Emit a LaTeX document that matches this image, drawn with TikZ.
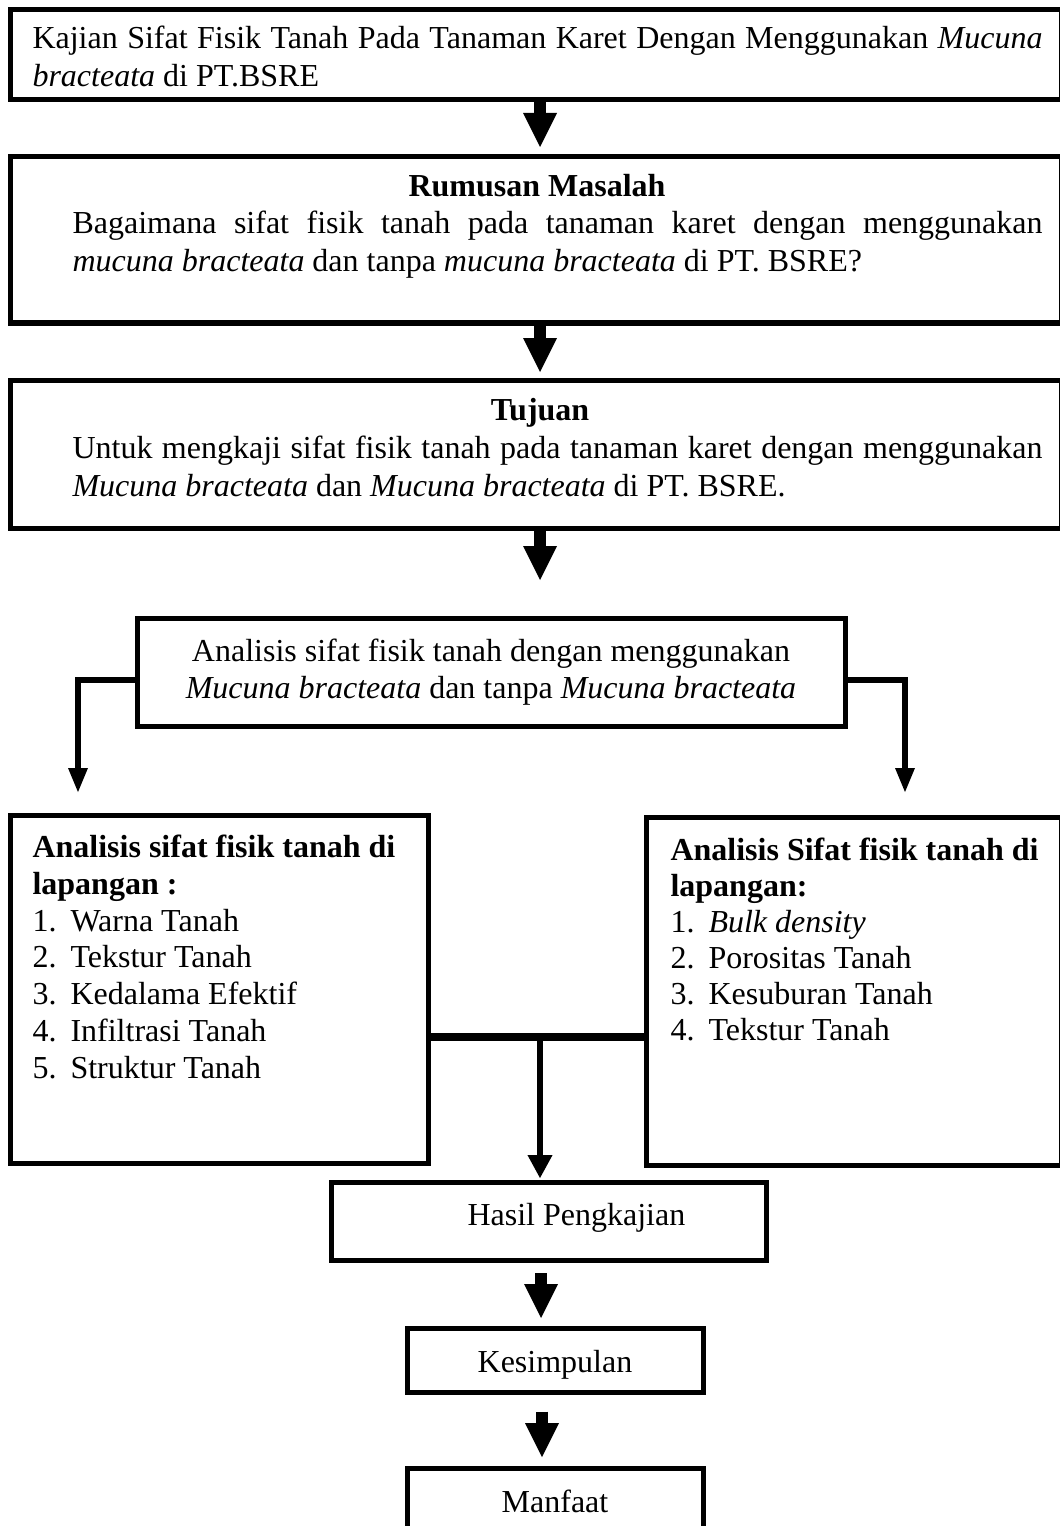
\documentclass[tikz,border=0pt]{standalone}
\usepackage{fontspec}
\setmainfont{Liberation Serif}
\usetikzlibrary{arrows.meta}
\begin{document}
\begin{tikzpicture}[x=0.375pt,y=-0.375pt,
  box/.style={draw=black, line width=1.875pt, rectangle, inner sep=0pt},
  txt/.style={anchor=base west, inner sep=0pt, font=\fontsize{12}{14}\selectfont},
  ctxt/.style={anchor=base, inner sep=0pt, font=\fontsize{12}{14}\selectfont},
  bigarrow/.style={line width=4.5pt, -{Triangle[width=12.75pt,length=12.75pt,line width=0pt]}},
  connector/.style={line width=2.4pt},
  smallarrow/.style={line width=2.4pt, -{Triangle[width=7.5pt,length=9pt,line width=0pt]}},
  joinarrow/.style={line width=2.6pt, -{Triangle[width=9.4pt,length=8.6pt,line width=0pt]}}
]
\path[use as bounding box, fill=white] (0,0) rectangle (1060,1526);

% boxes
\node[box, minimum width=394.125pt, minimum height=33.75pt] (b1) at (535.5,55) {};
\node[box, minimum width=394.125pt, minimum height=62.25pt] (b2) at (535.5,240) {};
\node[box, minimum width=394.125pt, minimum height=55.5pt] (b3) at (535.5,454) {};
\node[box, minimum width=265.5pt, minimum height=40.5pt] (b4) at (491,672) {};
\node[box, minimum width=156.75pt, minimum height=130.5pt] (b5) at (219,989) {};
\node[box, minimum width=155.625pt, minimum height=130.5pt] (b6) at (853.5,991) {};
\node[box, minimum width=163.125pt, minimum height=29.25pt] (b7) at (548.5,1221) {};
\node[box, minimum width=111pt, minimum height=24pt] (b8) at (555,1360) {};
\node[box, minimum width=111pt, minimum height=34.5pt] (b9) at (555,1514) {};

% texts
\node[txt] (t1a) at (32,49) {\makebox[378.75pt][s]{Kajian Sifat Fisik Tanah Pada Tanaman Karet Dengan Menggunakan \textit{Mucuna}}};
\node[txt] (t1b) at (32,87) {\textit{bracteata} di PT.BSRE};

\node[ctxt] (t2h) at (537,197) {\textbf{Rumusan Masalah}};
\node[txt] (t2a) at (72,234) {\makebox[363.75pt][s]{Bagaimana sifat fisik tanah pada tanaman karet dengan menggunakan}};
\node[txt] (t2b) at (72,272) {\textit{mucuna bracteata} dan tanpa \textit{mucuna bracteata} di PT. BSRE?};

\node[ctxt] (t3h) at (540,420) {\textbf{Tujuan}};
\node[txt] (t3a) at (72,458) {\makebox[363.75pt][s]{Untuk mengkaji sifat fisik tanah pada tanaman karet dengan menggunakan}};
\node[txt] (t3b) at (72,496) {\textit{Mucuna bracteata} dan \textit{Mucuna bracteata} di PT. BSRE.};

\node[ctxt] (t4a) at (491,661) {Analisis sifat fisik tanah dengan menggunakan};
\node[ctxt] (t4b) at (491,698) {\textit{Mucuna bracteata} dan tanpa \textit{Mucuna bracteata}};

\node[txt] (l0) at (32,857) {\textbf{Analisis sifat fisik tanah di}};
\node[txt] (l00) at (32,894) {\textbf{lapangan :}};
\node[txt] (l1) at (32,931) {\makebox[14.25pt][l]{1.}Warna Tanah};
\node[txt] (l2) at (32,967) {\makebox[14.25pt][l]{2.}Tekstur Tanah};
\node[txt] (l3) at (32,1004) {\makebox[14.25pt][l]{3.}Kedalama Efektif};
\node[txt] (l4) at (32,1041) {\makebox[14.25pt][l]{4.}Infiltrasi Tanah};
\node[txt] (l5) at (32,1078) {\makebox[14.25pt][l]{5.}Struktur Tanah};

\node[txt] (r0) at (670,860) {\textbf{Analisis Sifat fisik tanah di}};
\node[txt] (r00) at (670,896) {\textbf{lapangan:}};
\node[txt] (r1) at (670,932) {\makebox[14.25pt][l]{1.}\textit{Bulk density}};
\node[txt] (r2) at (670,968) {\makebox[14.25pt][l]{2.}Porositas Tanah};
\node[txt] (r3) at (670,1004) {\makebox[14.25pt][l]{3.}Kesuburan Tanah};
\node[txt] (r4) at (670,1040) {\makebox[14.25pt][l]{4.}Tekstur Tanah};

\node[txt] (t7) at (467,1225) {Hasil Pengkajian};
\node[ctxt] (t8) at (555,1372) {Kesimpulan};
\node[ctxt] (t9) at (555,1512) {Manfaat};

% connector coordinates
\coordinate (tip1) at (540,147);
\coordinate (tip2) at (540,372);
\coordinate (tip3) at (540,580);
\coordinate (tipL) at (78,792);
\coordinate (tipR) at (905,792);
\coordinate (j) at (540,1037);
\coordinate (tipJ) at (540,1178);
\coordinate (tip7) at (541,1318);
\coordinate (tip8) at (542,1457);

% connectors
\draw[bigarrow] (b1.south -| tip1) -- (tip1);
\draw[bigarrow] (b2.south -| tip2) -- (tip2);
\draw[bigarrow] (b3.south -| tip3) -- (tip3);
\draw[smallarrow] ([yshift=-3pt]b4.west) -| (tipL);
\draw[smallarrow] ([yshift=-3pt]b4.east) -| (tipR);
\draw[connector, line width=2.8pt] (b5.east |- j) -- (b6.west |- j);
\draw[joinarrow] (j) -- (tipJ);
\draw[bigarrow, shorten <=4.1pt] (b7.south -| tip7) -- (tip7);
\draw[bigarrow, shorten <=6.4pt] (b8.south -| tip8) -- (tip8);
\end{tikzpicture}
\end{document}
